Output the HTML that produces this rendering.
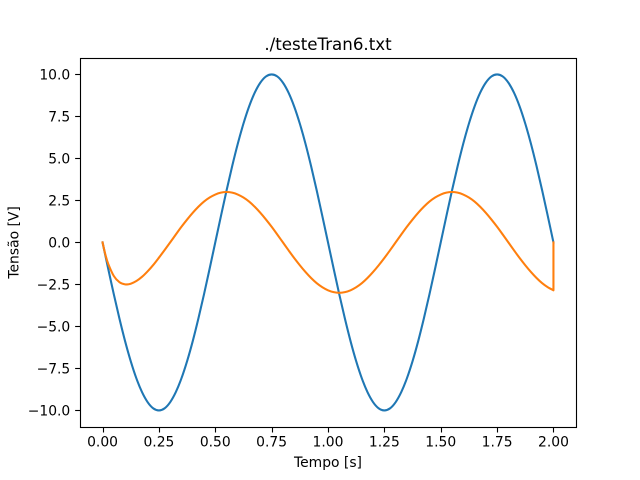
<!DOCTYPE html>
<html>
<head>
<meta charset="utf-8">
<style>
html,body{margin:0;padding:0;background:#fff;}
svg{display:block;font-family:"DejaVu Sans",sans-serif;fill:#000;}
</style>
</head>
<body>
<svg id="chart" xmlns="http://www.w3.org/2000/svg" width="640" height="480" viewBox="0 0 640 480">
  <rect x="0" y="0" width="640" height="480" fill="#ffffff"/>
  <rect x="80" y="57.6" width="496" height="369.6" fill="#ffffff"/>
  <g id="series"></g>
  <g id="xticks"></g>
  <g id="yticks"></g>
  <rect x="80.5" y="58.5" width="496" height="369" fill="none" stroke="#000" stroke-width="1.11"/>
  <text x="328" y="50" text-anchor="middle" font-size="16.67">./testeTran6.txt</text>
  <text x="328" y="467" text-anchor="middle" font-size="13.89">Tempo [s]</text>
  <text transform="translate(18.5,242.4) rotate(-90)" text-anchor="middle" font-size="13.89">Tensão [V]</text>
</svg>
<script>
const times = [0,0.0125,0.025,0.05,0.075,0.1,0.125,0.15,0.175,0.2,0.225,0.25,0.275,0.3,0.325,0.35,0.375,0.4,0.425,0.45,0.475,0.5,0.525,0.55,0.575,0.6,0.625,0.65,0.675,0.7,0.725,0.75,0.775,0.8,0.825,0.85,0.875,0.9,0.925,0.95,0.975,1,1.025,1.05,1.075,1.1,1.125,1.15,1.175,1.2,1.225,1.25,1.275,1.3,1.325,1.35,1.375,1.4,1.425,1.45,1.475,1.5,1.525,1.55,1.575,1.6,1.625,1.65,1.675,1.7,1.725,1.75,1.775,1.8,1.825,1.85,1.875,1.9,1.925,1.95,1.975,2,2];
const sourceVoltage = [0,-0.78,-1.56,-3.09,-4.54,-5.88,-7.07,-8.09,-8.91,-9.51,-9.88,-10,-9.88,-9.51,-8.91,-8.09,-7.07,-5.88,-4.54,-3.09,-1.56,0,1.56,3.09,4.54,5.88,7.07,8.09,8.91,9.51,9.88,10,9.88,9.51,8.91,8.09,7.07,5.88,4.54,3.09,1.56,0,-1.56,-3.09,-4.54,-5.88,-7.07,-8.09,-8.91,-9.51,-9.88,-10,-9.88,-9.51,-8.91,-8.09,-7.07,-5.88,-4.54,-3.09,-1.56,0,1.56,3.09,4.54,5.88,7.07,8.09,8.91,9.51,9.88,10,9.88,9.51,8.91,8.09,7.07,5.88,4.54,3.09,1.56,0,0];
const outputVoltage = [0,-0.72,-1.27,-2,-2.37,-2.5,-2.46,-2.3,-2.05,-1.72,-1.34,-0.91,-0.46,0,0.47,0.93,1.36,1.76,2.12,2.43,2.67,2.85,2.96,3,2.96,2.85,2.67,2.43,2.12,1.76,1.36,0.93,0.47,0,-0.47,-0.93,-1.36,-1.76,-2.12,-2.43,-2.67,-2.85,-2.96,-3,-2.96,-2.85,-2.67,-2.43,-2.12,-1.76,-1.36,-0.93,-0.47,0,0.47,0.93,1.36,1.76,2.12,2.43,2.67,2.85,2.96,3,2.96,2.85,2.67,2.43,2.12,1.76,1.36,0.93,0.47,0,-0.47,-0.93,-1.36,-1.76,-2.12,-2.43,-2.67,-2.85,0];
const xTickValues = [0,0.25,0.5,0.75,1,1.25,1.5,1.75,2];
const xTickLabels = ["0.00","0.25","0.50","0.75","1.00","1.25","1.50","1.75","2.00"];
const yTickValues = [-10,-7.5,-5,-2.5,0,2.5,5,7.5,10];
const yTickLabels = ["−10.0","−7.5","−5.0","−2.5","0.0","2.5","5.0","7.5","10.0"];

const NS = "http://www.w3.org/2000/svg";
const plot = {left:80, right:576, top:57.6, bottom:427.2};
const xDomain = [-0.1, 2.1];
const yDomain = [-11, 11];
function xScale(v){ return plot.left + (v - xDomain[0]) / (xDomain[1] - xDomain[0]) * (plot.right - plot.left); }
function yScale(v){ return plot.bottom - (v - yDomain[0]) / (yDomain[1] - yDomain[0]) * (plot.bottom - plot.top); }

function smoothPath(values){
  const p = values.map(function(v, i){ return [xScale(times[i]), yScale(v)]; });
  const last = p.length - 2;
  let d = "M" + p[0][0].toFixed(2) + " " + p[0][1].toFixed(2);
  for (let i = 0; i < last; i++){
    const a = p[Math.max(i - 1, 0)], b = p[i], c = p[i + 1], e = p[Math.min(i + 2, last)];
    const c1x = b[0] + (c[0] - a[0]) / 6, c1y = b[1] + (c[1] - a[1]) / 6;
    const c2x = c[0] - (e[0] - b[0]) / 6, c2y = c[1] - (e[1] - b[1]) / 6;
    d += "C" + c1x.toFixed(2) + " " + c1y.toFixed(2) + " " + c2x.toFixed(2) + " " + c2y.toFixed(2) + " " + c[0].toFixed(2) + " " + c[1].toFixed(2);
  }
  d += "L" + p[last + 1][0].toFixed(2) + " " + p[last + 1][1].toFixed(2);
  return d;
}

function drawLine(values, color, name){
  const line = document.createElementNS(NS, "path");
  
  
  line.setAttribute("d", smoothPath(values));
  line.setAttribute("fill", "none");
  line.setAttribute("stroke", color);
  line.setAttribute("stroke-width", "2.08");
  line.setAttribute("stroke-linejoin", "round");
  line.setAttribute("stroke-linecap", "square");
  document.getElementById("series").appendChild(line);
}
drawLine(sourceVoltage, "#1f77b4", "series-source-voltage");
drawLine(outputVoltage, "#ff7f0e", "series-output-voltage");

xTickValues.forEach(function(v, i){
  const x = Math.round(xScale(v)) + 0.5;
  const mark = document.createElementNS(NS, "line");
  
  
  mark.setAttribute("x1", x);
  mark.setAttribute("x2", x);
  mark.setAttribute("y1", plot.bottom);
  mark.setAttribute("y2", plot.bottom + 5.3);
  mark.setAttribute("stroke", "#000");
  mark.setAttribute("stroke-width", "1.11");
  document.getElementById("xticks").appendChild(mark);
  const label = document.createElementNS(NS, "text");
  
  
  label.setAttribute("x", xScale(v));
  label.setAttribute("y", plot.bottom + 19.5);
  label.setAttribute("text-anchor", "middle");
  label.setAttribute("font-size", "13.89");
  label.textContent = xTickLabels[i];
  document.getElementById("xticks").appendChild(label);
});

yTickValues.forEach(function(v, i){
  const y = Math.round(yScale(v)) + 0.5;
  const mark = document.createElementNS(NS, "line");
  
  
  mark.setAttribute("x1", plot.left - 4.86);
  mark.setAttribute("x2", plot.left);
  mark.setAttribute("y1", y);
  mark.setAttribute("y2", y);
  mark.setAttribute("stroke", "#000");
  mark.setAttribute("stroke-width", "1.11");
  document.getElementById("yticks").appendChild(mark);
  const label = document.createElementNS(NS, "text");
  
  
  label.setAttribute("x", plot.left - 9.72);
  label.setAttribute("y", yScale(v) + 5.3);
  label.setAttribute("text-anchor", "end");
  label.setAttribute("font-size", "13.89");
  label.textContent = yTickLabels[i];
  document.getElementById("yticks").appendChild(label);
});
</script>
</body>
</html>
